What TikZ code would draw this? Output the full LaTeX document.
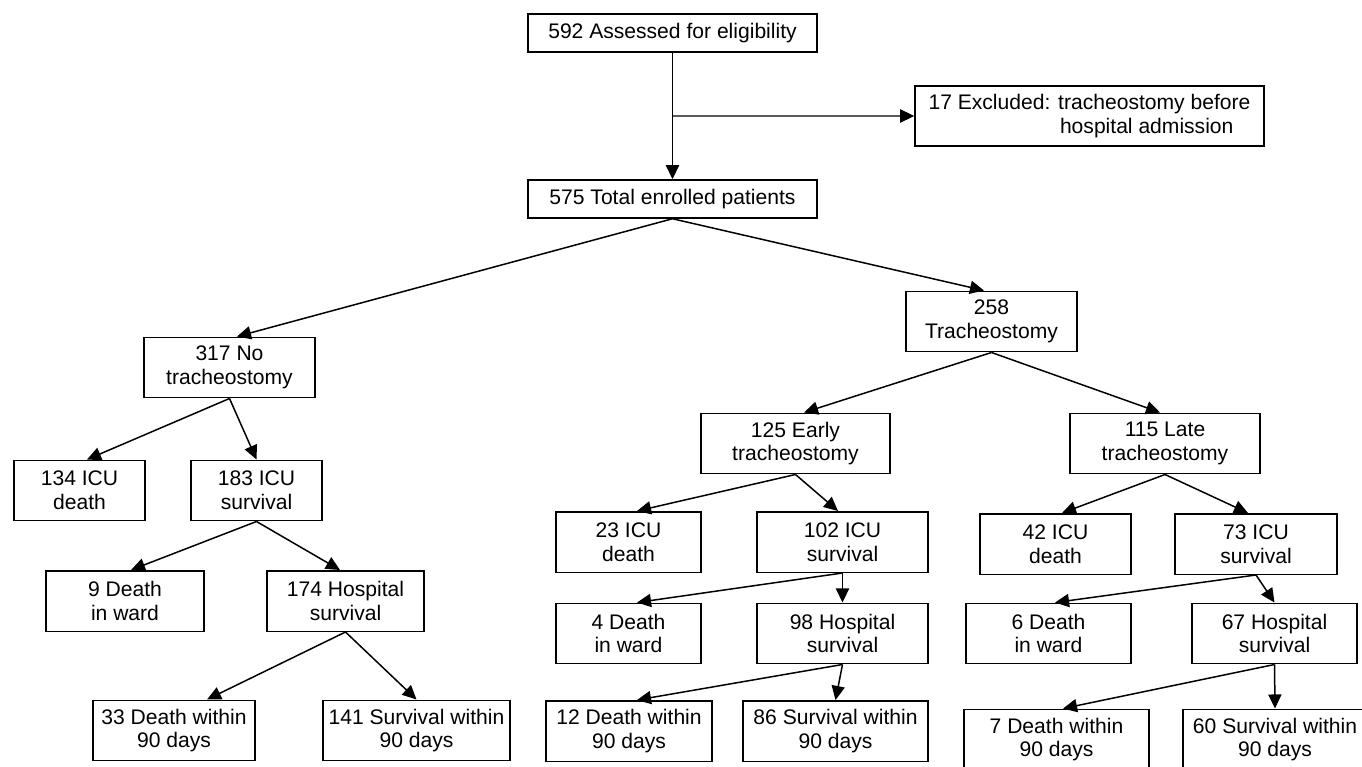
\documentclass[tikz,border=0pt]{standalone}
\usepackage{fontspec}
\setmainfont{Liberation Sans}
\usepackage{tikz}
\usetikzlibrary{positioning,arrows.meta,calc}
\tikzset{
    box/.style = {
        draw,
        shape=rectangle,
        align=center,
        inner sep=2pt,
        minimum height=1.21cm,
        line width=0.85pt,
        font=\fontsize{12}{13.5}\selectfont
    },
    flat/.style = {
        box,
        minimum height=0.76cm
    },
    >={Triangle[length=8pt,width=7.5pt]},
}

\begin{document}
\begin{tikzpicture}[x=0.02cm,y=-0.02cm,line width=0.85pt]
                \useasboundingbox (0,0) rectangle (1362,767);
                \node[flat, minimum width=5.78cm] (assess) at (672.5,33) {592 Assessed for eligibility};
                \node[box, minimum width=6.98cm, minimum height=1.2cm, align=right] (excl) at (1089.5,116) {17 Excluded: tracheostomy before\\hospital admission\hspace*{0.34cm}};
                \node[flat, minimum width=5.78cm] (total) at (672.5,199) {575 Total enrolled patients};
                \node[box, minimum width=3.42cm] (notrach) at (229.5,367.5) {317 No\\tracheostomy};
                \node[box, minimum width=3.42cm] (trach) at (991.5,321.5) {258\\Tracheostomy};

                \node[box, minimum width=2.62cm] (icud1) at (79.5,490.5) {134 ICU\\death};
                \node[box, minimum width=2.62cm] (icus1) at (256.5,490.5) {183 ICU\\survival};
                \node[box, minimum width=3.16cm] (ward1) at (125,601) {9 Death\\in ward};
                \node[box, minimum width=3.14cm] (hosp1) at (345.5,601) {174 Hospital\\survival};
                \node[box, minimum width=3.24cm] (d90a) at (174,730.5) {33 Death within\\90 days};
                \node[box, minimum width=3.74cm] (s90a) at (416.5,730.5) {141 Survival within\\90 days};

                \node[box, minimum width=3.78cm] (early) at (795.5,443.5) {125 Early\\tracheostomy};
                \node[box, minimum width=2.9cm] (icud2) at (628.5,542) {23 ICU\\death};
                \node[box, minimum width=3.42cm] (icus2) at (842.5,542) {102 ICU\\survival};
                \node[box, minimum width=2.9cm] (ward2) at (628.5,633.5) {4 Death\\in ward};
                \node[box, minimum width=3.42cm] (hosp2) at (842.5,633.5) {98 Hospital\\survival};
                \node[box, minimum width=3.32cm] (d90b) at (629,731) {12 Death within\\90 days};
                \node[box, minimum width=3.7cm] (s90b) at (835.5,731) {86 Survival within\\90 days};

                \node[box, minimum width=3.8cm] (late) at (1165,443.5) {115 Late\\tracheostomy};
                \node[box, minimum width=3.02cm] (icud3) at (1055.5,544) {42 ICU\\death};
                \node[box, minimum width=3.24cm] (icus3) at (1256,544) {73 ICU\\survival};
                \node[box, minimum width=3.3cm] (ward3) at (1048.5,633.5) {6 Death\\in ward};
                \node[box, minimum width=3.3cm] (hosp3) at (1274.5,633.5) {67 Hospital\\survival};
                \node[box, minimum width=3.7cm] (d90c) at (1056.5,739.5) {7 Death within\\90 days};
                \node[box, minimum width=3.68cm] (s90c) at (1275,739.5) {60 Survival within\\90 days};

                \coordinate (split) at ($(assess.south)!0.5!(total.north)$);
                \draw[->] (assess.south) -- (total.north);
                \draw[->] (split) -- (excl);

                \draw[->] (total.south) -- ($(notrach.north)+(7.5,0)$);
                \draw[->] (total.south) -- ($(trach.north)+(-7.5,0)$);

                \draw[->] (notrach.south) -- ($(icud1.north)+(7.5,0)$);
                \draw[->] (notrach.south) -- (icus1.north);
                \draw[->] (icus1.south) -- ($(ward1.north)+(6,0)$);
                \draw[->] (icus1.south) -- ($(hosp1.north)+(-5.5,0)$);
                \draw[->] (hosp1.south) -- ($(d90a.north)+(33,0)$);
                \draw[->] (hosp1.south) -- (s90a.north);

                \draw[->] (trach.south) -- ($(early.north)+(8.5,0)$);
                \draw[->] (trach.south) -- ($(late.north)+(-5,0)$);

                \draw[->] (early.south) -- ($(icud2.north)+(8.5,0)$);
                \draw[->] (early.south) -- ($(icus2.north)+(-4.5,0)$);
                \draw[->] (icus2.south) -- ($(ward2.north)+(8.5,0)$);
                \draw[->] (icus2.south) -- (hosp2.north);
                \draw[->] (hosp2.south) -- ($(d90b.north)+(8,0)$);
                \draw[->] (hosp2.south) -- (s90b.north);

                \draw[->] (late.south) -- ($(icud3.north)+(6.5,0)$);
                \draw[->] (late.south) -- ($(icus3.north)+(-8,0)$);
                \draw[->] (icus3.south) -- ($(ward3.north)+(6.5,0)$);
                \draw[->] (icus3.south) -- (hosp3.north);
                \draw[->] (hosp3.south) -- ($(d90c.north)+(6.5,0)$);
                \draw[->] (hosp3.south) -- (s90c.north);
            \end{tikzpicture}
\end{document}
